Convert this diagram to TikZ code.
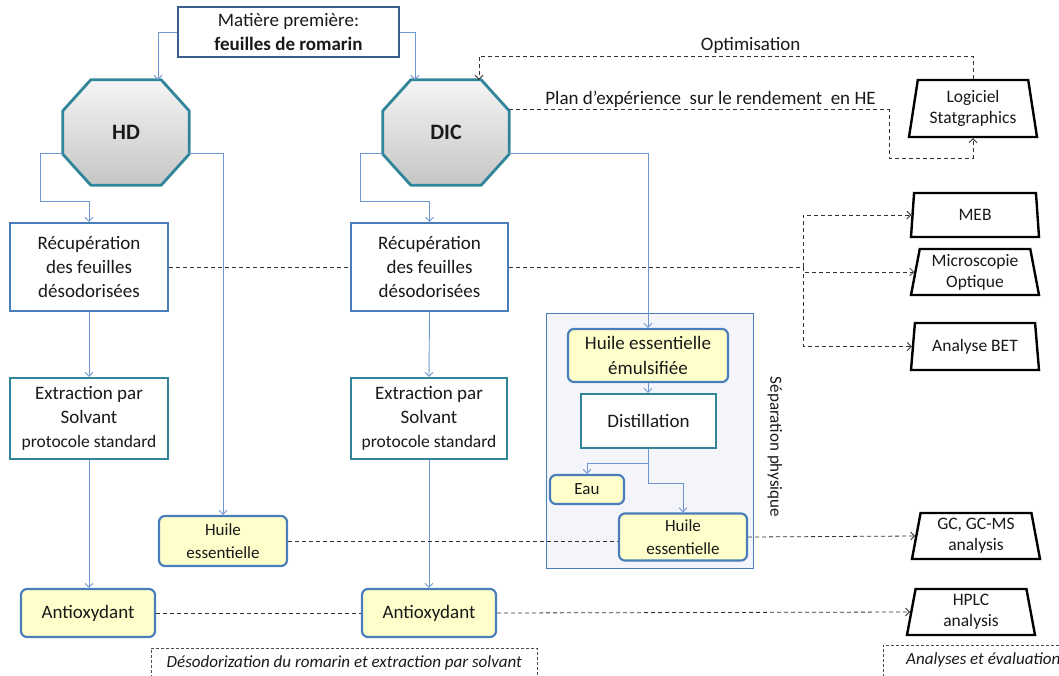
\documentclass[tikz,border=0pt]{standalone}
\usepackage{fontspec}
\setmainfont{Carlito}
\usepackage{tikz}
\usetikzlibrary{shapes.geometric,backgrounds,arrows.meta}

\definecolor{flowblue}{RGB}{110,150,210}
\definecolor{boxblue}{RGB}{74,126,187}
\definecolor{tealline}{RGB}{49,133,155}
\definecolor{darkblue}{RGB}{56,93,138}
\definecolor{oilfill}{RGB}{255,255,204}
\definecolor{sepfill}{RGB}{243,245,250}

\begin{document}
\begin{tikzpicture}[x=1pt,y=-1pt, >={Straight Barb[length=4pt,width=8pt]},
        every node/.style={align=center, text=black!90, inner sep=2pt, font=\fontsize{19}{24}\selectfont},
        octnode/.style={minimum width=126pt, minimum height=105pt, font=\fontsize{22}{24}\selectfont\bfseries},
        octo/.style={draw=tealline, line width=2.8pt, line join=round, top color=gray!8, bottom color=gray!45},
        recbox/.style={draw=boxblue, line width=2.2pt, fill=white},
        extbox/.style={draw=tealline, line width=2.2pt, fill=white},
        oilbox/.style={draw=boxblue, line width=2.2pt, fill=oilfill, rounded corners=6pt},
        tool/.style={trapezium, trapezium left angle=77, trapezium right angle=77, trapezium stretches body,
            draw=black, line width=2.4pt, fill=white, minimum width=128pt, inner sep=1pt,
            font=\fontsize{17.5}{21}\selectfont},
        flow/.style={draw=flowblue, line width=0.9pt, ->},
        link/.style={draw=black!80, line width=0.8pt, dash pattern=on 4pt off 3pt},
        tag/.style={draw=black!70, line width=0.6pt, dash pattern=on 3pt off 2pt, anchor=north west,
            text height=17pt, text depth=30pt, font=\fontsize{17}{20}\selectfont\itshape}]
        \useasboundingbox (0,0) rectangle (1059,676);

        % raw material and the two processes
        \node[draw=darkblue, line width=2.2pt, minimum width=221pt, minimum height=50pt] (mat) at (288.5,32)
            {Matière première:\\\textbf{feuilles de romarin}};
        \node[octnode] (HD) at (126,132.5) {HD};
        \node[octnode] (DIC) at (446,132.5) {DIC};
        \begin{scope}[on background layer]
            \foreach \n in {HD,DIC}
                \draw[octo] ([xshift=28pt]\n.north west) -- ([xshift=-28pt]\n.north east)
                    -- ([yshift=-31pt]\n.north east) -- ([yshift=31pt]\n.south east)
                    -- ([xshift=-28pt]\n.south east) -- ([xshift=28pt]\n.south west)
                    -- ([yshift=31pt]\n.south west) -- ([yshift=-31pt]\n.north west) -- cycle;
        \end{scope}

        % left and middle columns
        \node[recbox, minimum width=158pt, minimum height=88pt] (recL) at (89,267)
            {Récupération\\des feuilles\\désodorisées};
        \node[recbox, minimum width=157pt, minimum height=88pt] (recR) at (429.5,267)
            {Récupération\\des feuilles\\désodorisées};
        \node[extbox, minimum width=158pt, minimum height=81pt] (extL) at (89,418.5)
            {Extraction par\\Solvant\\{\fontsize{17.5}{22}\selectfont protocole standard}};
        \node[extbox, minimum width=156pt, minimum height=81pt] (extR) at (429,418.5)
            {Extraction par\\Solvant\\{\fontsize{17.5}{22}\selectfont protocole standard}};
        \node[oilbox, minimum width=128pt, minimum height=50pt, font=\fontsize{17}{23}\selectfont] (huileL) at (223,541)
            {Huile\\essentielle};
        \node[oilbox, minimum width=134pt, minimum height=48pt] (antL) at (88,613) {Antioxydant};
        \node[oilbox, minimum width=134pt, minimum height=48pt] (antR) at (429,613) {Antioxydant};

        % physical separation
        \node[draw=boxblue, line width=0.8pt, fill=sepfill, minimum width=207pt, minimum height=255pt] (sep) at (649.5,440.5) {};
        \node[rotate=-90, font=\fontsize{17}{20}\selectfont] (seplabel) at (775,447) {Séparation physique};
        \node[oilbox, minimum width=160pt, minimum height=53pt, font=\fontsize{19}{25}\selectfont] (emul) at (648,355.5)
            {Huile essentielle\\émulsifiée};
        \node[extbox, minimum width=135pt, minimum height=54pt] (dist) at (648.5,421) {Distillation};
        \node[oilbox, minimum width=74pt, minimum height=29pt, font=\fontsize{17}{20}\selectfont] (eau) at (587,489.5) {Eau};
        \node[oilbox, minimum width=128pt, minimum height=47pt, font=\fontsize{17}{23}\selectfont] (huileR) at (683,537)
            {Huile\\essentielle};

        % analysis tools
        \node[tool, minimum height=57pt] (logi) at (973,108.5) {Logiciel\\Statgraphics};
        \node[tool, minimum height=44pt] (meb) at (975,215) {MEB};
        \node[tool, minimum height=46pt] (micro) at (975,272) {Microscopie\\Optique};
        \node[tool, minimum height=47pt] (bet) at (975,346.5) {Analyse BET};
        \node[tool, minimum height=46pt] (gc) at (976,536) {GC, GC-MS\\analysis};
        \node[tool, minimum height=46pt] (hplc) at (971,612) {HPLC\\analysis};

        \node[tag, minimum width=386pt] (tagL) at (151,648) {Désodorization du romarin et extraction par solvant};
        \node[tag, minimum width=200pt, align=left] (tagR) at (883,645) {Analyses et évaluation};

        % process flow
        \draw[flow] (mat.west) -| ([xshift=32pt]HD.north);
        \draw[flow] (mat.east) -| ([xshift=-31pt]DIC.north);
        \draw[flow] ([yshift=-21pt]HD.west) -- ++(-22,0) -- ++(0,48) -| (recL.north);
        \draw[flow] ([yshift=-21pt]HD.east) -| (huileL.north);
        \draw[flow] ([yshift=-21pt]DIC.west) -- ++(-22,0) -- ++(0,48) -| (recR.north);
        \draw[flow] ([yshift=-21pt]DIC.east) -| (emul.north);
        \draw[flow] (recL.south) -- (extL.north);
        \draw[flow] (extL.south) -- (extL.south |- antL.north);
        \draw[flow] (recR.south) -- (extR.north);
        \draw[flow] (extR.south) -- (extR.south |- antR.north);
        \draw[flow] (emul.south) -- (emul.south |- dist.north);
        \draw[flow] (dist.south) -- ++(0,14) -| (eau.north);
        \draw[flow] (dist.south) -- ++(0,34) -| (huileR.north);

        % links to the analyses
        \coordinate (fork) at (803,266);
        \coordinate (optim) at (0,56);
        \coordinate (plan) at (889,158);
        \draw[link] (recL.east) -- (recR.west);
        \draw[link] (recR.east) -- (recR.east -| fork);
        \draw[link,->] (recR.east -| fork) |- (meb.west);
        \draw[link,->] (recR.east -| fork) |- (micro.west);
        \draw[link,->] (recR.east -| fork) |- (bet.west);
        \draw[link] (huileL.east) -- (huileL.east -| huileR.west);
        \draw[link,->] (huileR.east) -- (gc.west);
        \draw[link] (antL.east) -- (antR.west);
        \draw[link,->] (antR.east) -- (hplc.west);
        \draw[link,->] (logi.north) -- (logi.north |- optim)
            -- node[pos=0.45, above] {Optimisation} ([xshift=33pt]DIC.north |- optim) -- ([xshift=33pt]DIC.north);
        \draw[link,->] ([yshift=23pt]DIC.east)
            -- node[pos=0.53, above] {Plan d’expérience~ sur le rendement~ en HE} ([yshift=23pt]DIC.east -| plan)
            -- (plan) -- (plan -| logi.south) -- (logi.south);
\end{tikzpicture}
\end{document}
